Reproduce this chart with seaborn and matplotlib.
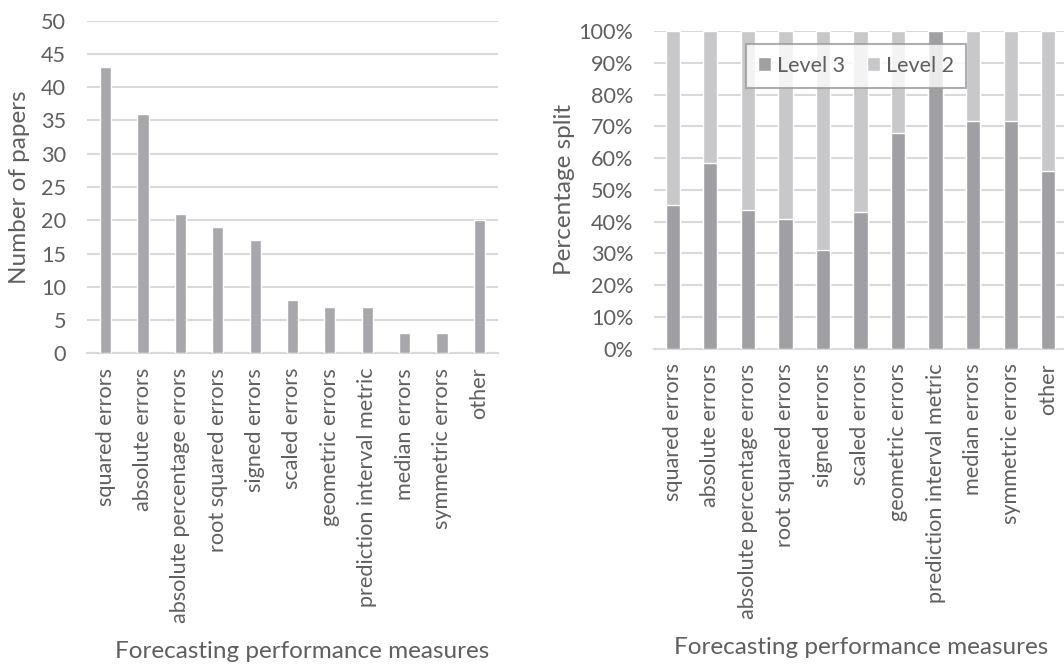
import matplotlib
matplotlib.use("Agg")
import matplotlib.pyplot as plt
import seaborn as sns
import pandas as pd
from matplotlib.patches import Patch
from matplotlib.ticker import MultipleLocator, FuncFormatter

# Forecasting performance measures and their paper counts
measures = [
    "squared errors", "absolute errors", "absolute percentage errors",
    "root squared errors", "signed errors", "scaled errors",
    "geometric errors", "prediction interval metric", "median errors",
    "symmetric errors", "other",
]
paper_counts = [43, 36, 21, 19, 17, 8, 7, 7, 3, 3, 20]

# Percentage split between level 3 and level 2 papers
level3_pct = [45.3, 58.5, 43.8, 40.8, 31.2, 43.0, 67.8, 100.0, 71.7, 71.7, 55.8]
level2_pct = [100 - v for v in level3_pct]

TEXT = "#5f5f5f"
GRID = "#d9d9d9"
BAR = "#a8a8ac"
DARK = "#a0a0a4"
LIGHT = "#c8c8ca"
FONT = ["Lato", "DejaVu Sans"]

sns.set_theme(style="white")
plt.rcParams["font.family"] = FONT
plt.rcParams["text.color"] = TEXT
plt.rcParams["axes.labelcolor"] = TEXT
plt.rcParams["xtick.color"] = TEXT
plt.rcParams["ytick.color"] = TEXT

fig = plt.figure(figsize=(10.64, 6.64), dpi=100)
W, H = 1064, 664

def axes_px(x0, x1, ytop, ybot):
    return fig.add_axes([x0 / W, 1 - ybot / H, (x1 - x0) / W, (ybot - ytop) / H])

ax1 = axes_px(87, 498, 20.7, 353.3)
ax2 = axes_px(654, 1067, 31, 348.7)

df1 = pd.DataFrame({"measure": measures, "count": paper_counts})
sns.barplot(data=df1, x="measure", y="count", color=BAR, saturation=1,
            width=0.3, ax=ax1, zorder=3)
ax1.set_ylim(0, 50)
ax1.yaxis.set_major_locator(MultipleLocator(5))
ax1.set_ylabel("Number of papers", fontsize=17.5)
ax1.yaxis.set_label_coords(-0.139, 0.5)

df2 = pd.DataFrame({
    "measure": measures,
    "level3": level3_pct,
    "total": [a + b for a, b in zip(level3_pct, level2_pct)],
})
sns.barplot(data=df2, x="measure", y="total", color=LIGHT, saturation=1,
            width=0.38, ax=ax2, zorder=3)
sns.barplot(data=df2, x="measure", y="level3", color=DARK, saturation=1,
            width=0.38, ax=ax2, zorder=3)
ax2.set_ylim(0, 100)
ax2.yaxis.set_major_locator(MultipleLocator(10))
ax2.yaxis.set_major_formatter(FuncFormatter(lambda v, p: f"{v:.0f}%"))
ax2.set_ylabel("Percentage split", fontsize=17.5)
ax2.yaxis.set_label_coords(-0.191, 0.5)

for ax in (ax1, ax2):
    ax.set_xlim(-0.5, len(measures) - 0.5)
    ax.grid(axis="y", color=GRID, linewidth=1.5, zorder=0)
    ax.set_axisbelow(True)
    for s in ("top", "right", "left"):
        ax.spines[s].set_visible(False)
    ax.spines["bottom"].set_color(GRID)
    ax.spines["bottom"].set_linewidth(1.5)
    ax.tick_params(axis="both", length=0, labelsize=15.6)
    ax.tick_params(axis="x", rotation=90, pad=10.5)
    ax.tick_params(axis="y", pad=15)
    ax.set_xlabel("")

fig.text(302 / W, 1 - 651 / H, "Forecasting performance measures",
         fontsize=17.5, ha="center", va="center", color=TEXT)
fig.text(861 / W, 1 - 647 / H, "Forecasting performance measures",
         fontsize=17.5, ha="center", va="center", color=TEXT)

handles = [Patch(facecolor=DARK, label="Level 3"), Patch(facecolor=LIGHT, label="Level 2")]
leg = ax2.legend(handles=handles, ncol=2, loc="upper left",
                 bbox_to_anchor=(0.223, 0.959), fontsize=15.5, frameon=True,
                 handlelength=0.6, handleheight=0.6, handletextpad=0.3,
                 columnspacing=1.0, borderpad=0.55, borderaxespad=0,
                 fancybox=False)
leg.get_frame().set_edgecolor("#9a9a9a")
leg.get_frame().set_linewidth(1.5)
leg.get_frame().set_facecolor((1, 1, 1, 0.5))
for t in leg.get_texts():
    t.set_color(TEXT)

fig.savefig("out.png", dpi=100)
